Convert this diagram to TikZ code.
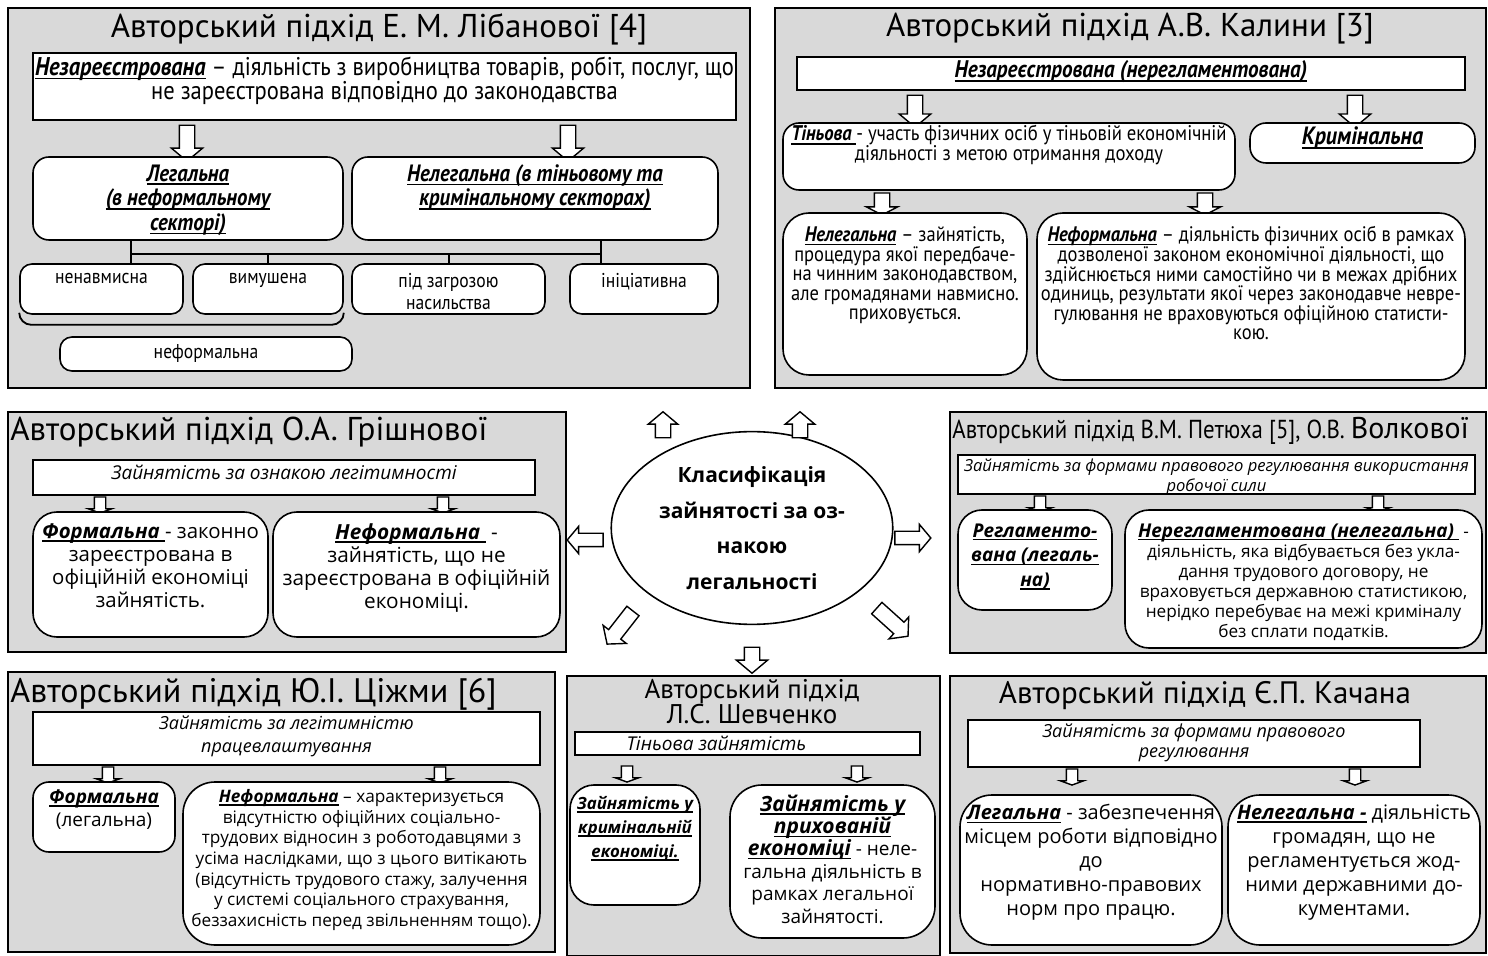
\documentclass[tikz,border=0pt]{standalone}
\usepackage{fontspec}
\setmainfont{PT Sans}
\newfontfamily\condfont{PT Sans}[FakeStretch=0.88]
\newfontfamily\widefont{Open Sans}
\usepackage{tikz}
\usetikzlibrary{shapes.geometric,shapes.arrows,positioning,fit}
\definecolor{pnlgray}{HTML}{D9D9D9}
\newsavebox\ktbox
\newcommand{\keyterm}[1]{\sbox\ktbox{\bfseries\itshape #1}\rlap{\rule[-0.17em]{\wd\ktbox}{0.07em}}\usebox\ktbox}
\newcommand{\fs}[2]{\fontsize{#1}{#2}\selectfont}

\begin{document}
\begin{tikzpicture}[x=0.5pt, y=-0.5pt,
    panel/.style={draw, line width=1pt, fill=pnlgray, inner sep=0pt},
    sqbox/.style={draw, line width=0.9pt, fill=white, inner sep=0pt},
    rbox/.style={draw, line width=0.8pt, fill=white, inner sep=0pt, rounded corners=8pt},
    txt/.style={align=center, inner sep=0pt},
    ttl/.style={inner sep=0pt},
    bkarrow/.style={single arrow, draw, fill=white, line width=0.7pt, inner xsep=0pt, inner ysep=3.5pt,
        single arrow head extend=4pt, single arrow tip angle=100, minimum height=18pt},
    smarrow/.style={bkarrow, inner ysep=2.5pt, single arrow head extend=3pt, single arrow tip angle=140,
        minimum height=8pt},
    tree/.style={line width=1pt}
]
    \useasboundingbox (0,0) rectangle (1488,956);

    % Libanova
    \node[panel, fit={(8,8)(750,388)}] (lib) {};
    \node[ttl, font=\fs{16.5}{18}] (libttl) at (379,29) {Авторський підхід Е. М. Лібанової [4]};
    \node[sqbox, fit={(33,53)(736,120)}] (libtop) {};
    \node[txt, font=\condfont\fs{12.8}{12}, below=2pt of libtop.north] (libtopt)
        {\keyterm{Незареєстрована} – діяльність з виробництва товарів, робіт, послуг, що\\не зареєстрована відповідно до законодавства};
    \node[bkarrow, rotate=-90] (libar1) at (187,140) {};
    \node[bkarrow, rotate=-90] (libar2) at (568,140) {};
    \node[rbox, fit={(33,157)(343,240)}] (liblegal) {};
    \node[txt, font=\condfont\fs{11.8}{12.3}, below=4pt of liblegal.north] (liblegalt)
        {\keyterm{Легальна}\\\keyterm{(в неформальному}\\\keyterm{секторі)}};
    \node[rbox, fit={(352,157)(718,240)}] (libillegal) {};
    \node[txt, font=\condfont\fs{11.8}{12.3}, below=4pt of libillegal.north] (libillegalt)
        {\keyterm{Нелегальна (в тіньовому та}\\\keyterm{кримінальному секторах)}};
    \node[rbox, rounded corners=6pt, fit={(20,264)(183,314)}] (libunint) {};
    \node[txt, font=\condfont\fs{10}{11}, below=5pt of libunint.north] (libunintt) {ненавмисна};
    \node[rbox, rounded corners=6pt, fit={(193,264)(343,314)}] (libforced) {};
    \node[txt, font=\condfont\fs{10}{11}, below=5pt of libforced.north] (libforcedt) {вимушена};
    \node[rbox, rounded corners=6pt, fit={(352,264)(545,314)}] (libthreat) {};
    \node[txt, font=\condfont\fs{10}{11}, below=5pt of libthreat.north] (libthreatt) {під загрозою\\насильства};
    \node[rbox, rounded corners=6pt, fit={(570,264)(718,314)}] (libinit) {};
    \node[txt, font=\condfont\fs{10}{11}, below=5pt of libinit.north] (libinitt) {ініціативна};
    \node[rbox, rounded corners=6pt, fit={(60,337)(352,371)}] (libinformal) {};
    \node[txt, font=\condfont\fs{10}{11}, below=4pt of libinformal.north] (libinformalt) {неформальна};
    \coordinate (libj1) at (131,254);
    \coordinate (libj2) at (601,254);
    \draw[tree] (liblegal.south -| libj1) -- (libj1) -- (libj2) -- (libillegal.south -| libj2);
    \draw[tree] (libj1) -- (libunint.north -| libj1);
    \draw[tree] (libforced.north) -- (libforced.north |- libj1);
    \draw[tree] (libthreat.north) -- (libthreat.north |- libj1);
    \draw[tree] (libj2) -- (libinit.north -| libj2);
    \draw[line width=0.9pt, rounded corners=6pt] ([yshift=1pt]libunint.south west) -- ([yshift=-5pt]libunint.south west)
        -- ([yshift=-5pt]libforced.south east) -- ([yshift=1pt]libforced.south east);

    % Kalina
    \node[panel, fit={(775,8)(1486,388)}] (kal) {};
    \node[ttl, font=\fs{16.5}{18}] (kalttl) at (1130,29) {Авторський підхід А.В. Калини [3]};
    \node[sqbox, fit={(797,57)(1465,90)}] (kaltop) {};
    \node[txt, font=\condfont\fs{12}{12}, below=2pt of kaltop.north] (kaltopt) {\keyterm{Незареєстрована (нерегламентована)}};
    \node[bkarrow, rotate=-90, minimum height=16pt] (kalar1) at (915,108) {};
    \node[bkarrow, rotate=-90, minimum height=16pt] (kalar2) at (1355,108) {};
    \node[rbox, fit={(783,123)(1235,190)}] (kalshadow) {};
    \node[txt, font=\condfont\fs{10.6}{10}, below=1.5pt of kalshadow.north] (kalshadowt)
        {\keyterm{Тіньова }- участь фізичних осіб у тіньовій економічній\\діяльності з метою отримання доходу};
    \node[rbox, fit={(1250,123)(1475,163)}] (kalcrime) {};
    \node[txt, font=\condfont\fs{12.5}{12}, below=2pt of kalcrime.north] (kalcrimet) {\keyterm{Кримінальна}};
    \node[bkarrow, rotate=-90, minimum height=11pt, single arrow tip angle=125] (kalar3) at (882,202) {};
    \node[bkarrow, rotate=-90, minimum height=11pt, single arrow tip angle=125] (kalar4) at (1205,202) {};
    \node[rbox, rounded corners=13pt, fit={(783,213)(1027,375)}] (kalillegal) {};
    \node[txt, font=\condfont\fs{10.5}{9.8}, below=7pt of kalillegal.north] (kalillegalt)
        {\keyterm{Нелегальна} – зайнятість,\\процедура якої передбаче-\\на чинним законодавством,\\але громадянами навмисно.\\приховується.};
    \node[rbox, rounded corners=13pt, fit={(1037,213)(1465,380)}] (kalinformal) {};
    \node[txt, font=\condfont\fs{10.5}{9.8}, below=7pt of kalinformal.north] (kalinformalt)
        {\keyterm{Неформальна} – діяльність фізичних осіб  в рамках\\дозволеної законом економічної діяльності, що\\здійснюється ними самостійно чи в межах дрібних\\одиниць, результати якої через законодавче невре-\\гулювання  не враховуються офіційною статисти-\\кою.};

    % Grishnova
    \node[panel, fit={(8,412)(566,652)}] (gr) {};
    \node[ttl, font=\fs{16.5}{18}, anchor=west] (grttl) at (10,432) {Авторський підхід О.А. Грішнової};
    \node[sqbox, fit={(33,460)(535,495)}] (grtop) {};
    \node[txt, font=\widefont\itshape\fs{9.5}{11}, below=3pt of grtop.north] (grtopt) {Зайнятість за ознакою легітимності};
    \node[smarrow, rotate=-90] (grar1) at (100,504) {};
    \node[smarrow, rotate=-90] (grar2) at (443,504) {};
    \node[rbox, rounded corners=12pt, fit={(33,512)(268,637)}] (grformal) {};
    \node[txt, font=\widefont\fs{10.2}{11.5}, below=6pt of grformal.north] (grformalt)
        {\keyterm{Формальна }- законно\\зареєстрована в\\офіційній економіці\\зайнятість.};
    \node[rbox, rounded corners=12pt, fit={(273,512)(560,637)}] (grinformal) {};
    \node[txt, font=\widefont\fs{10.4}{11.5}, below=6pt of grinformal.north] (grinformalt)
        {\keyterm{Неформальна } -\\зайнятість, що не\\зареєстрована в офіційній\\економіці.};

    % Centre
    \node[ellipse, draw, line width=0.8pt, fill=white, minimum width=140pt, minimum height=95pt,
        align=center, font=\widefont\bfseries\fs{10.5}{17.8}] (clsf) at (752,528)
        {Класифікація\\зайнятості за оз-\\накою\\легальності};
    \node[bkarrow, rotate=90, minimum height=13pt, single arrow head extend=3.5pt] (car1) at (663,428) {};
    \node[bkarrow, rotate=90, minimum height=13pt, single arrow head extend=3.5pt] (car2) at (800,428) {};
    \node[bkarrow, rotate=180, inner ysep=3pt, minimum height=18pt, single arrow head extend=3.5pt] (car3) at (588,540) {};
    \node[bkarrow, inner ysep=3pt, minimum height=18pt, single arrow head extend=3.5pt] (car4) at (910,538) {};
    \node[bkarrow, rotate=-128, minimum height=21pt, single arrow head extend=3.5pt] (car5) at (622,625) {};
    \node[bkarrow, rotate=-90, minimum height=13pt] (car6) at (752,657) {};
    \node[bkarrow, rotate=-42, minimum height=21pt, single arrow head extend=3.5pt] (car7) at (890,620) {};

    % Petiukh, Volkova
    \node[panel, fit={(950,412)(1486,653)}] (pet) {};
    \node[ttl, font=\condfont\fs{13}{14}, anchor=west] (petttl) at (952,431)
        {Авторський підхід В.М. Петюха [5], О.В. {\normalfont\fs{15}{16}Волкової}};
    \node[sqbox, fit={(958,455)(1475,494)}] (pettop) {};
    \node[txt, font=\widefont\itshape\fs{8.3}{10}, below=2pt of pettop.north] (pettopt)
        {Зайнятість за формами правового регулювання використання\\робочої сили};
    \node[smarrow, rotate=-90] (petar1) at (1040,503) {};
    \node[smarrow, rotate=-90] (petar2) at (1378,503) {};
    \node[rbox, rounded corners=12pt, fit={(958,510)(1112,610)}] (petreg) {};
    \node[txt, font=\widefont\fs{9.5}{12.3}, below=7pt of petreg.north] (petregt)
        {\keyterm{Регламенто-}\\\keyterm{вана (легаль-}\\\keyterm{на)}};
    \node[rbox, rounded corners=12pt, fit={(1125,510)(1482,648)}] (petunreg) {};
    \node[txt, font=\widefont\fs{8.6}{10}, below=7pt of petunreg.north] (petunregt)
        {{\fs{9.5}{10}\keyterm{Нерегламентована (нелегальна) }} -\\діяльність, яка відбувається без укла-\\дання трудового договору, не\\враховується державною статистикою,\\нерідко перебуває на межі криміналу\\без сплати податків.};

    % Tsizhma
    \node[panel, fit={(8,672)(555,952)}] (ts) {};
    \node[ttl, font=\fs{17}{18}, anchor=west] (tsttl) at (10,694) {Авторський підхід Ю.І. Ціжми [6]};
    \node[sqbox, fit={(33,712)(540,765)}] (tstop) {};
    \node[txt, font=\widefont\itshape\fs{9}{11.5}, below=2pt of tstop.north] (tstopt)
        {Зайнятість за  легітимністю\\працевлаштування};
    \node[smarrow, rotate=-90] (tsar1) at (108,774) {};
    \node[smarrow, rotate=-90] (tsar2) at (440,774) {};
    \node[rbox, rounded corners=8pt, fit={(33,782)(175,852)}] (tsformal) {};
    \node[txt, font=\widefont\fs{9.5}{11.5}, below=4pt of tsformal.north] (tsformalt)
        {\keyterm{Формальна}\\(легальна)};
    \node[rbox, rounded corners=16pt, fit={(183,782)(540,945)}] (tsinformal) {};
    \node[txt, font=\widefont\fs{8.6}{10.3}, below=4pt of tsinformal.north] (tsinformalt)
        {\keyterm{Неформальна} – характеризується\\відсутністю офіційних соціально-\\трудових відносин з роботодавцями з\\усіма наслідками, що з цього витікають\\(відсутність трудового стажу, залучення\\у системі соціального страхування,\\беззахисність перед звільненням тощо).};

    % Shevchenko
    \node[panel, fit={(567,676)(940,956)}] (sh) {};
    \node[ttl, align=center, font=\fs{13.5}{12.5}] (shttl) at (752,702) {Авторський підхід\\Л.С. Шевченко};
    \node[sqbox, fit={(575,732)(920,755)}] (shtop) {};
    \node[txt, font=\widefont\itshape\fs{9.5}{11}, anchor=west] (shtopt) at ([xshift=26pt]shtop.west) {Тіньова зайнятість};
    \node[smarrow, rotate=-90] (shar1) at (627,773) {};
    \node[smarrow, rotate=-90] (shar2) at (857,773) {};
    \node[rbox, rounded corners=12pt, fit={(570,785)(700,905)}] (shcrime) {};
    \node[txt, font=\widefont\fs{8.4}{12}, below=6pt of shcrime.north] (shcrimet)
        {\keyterm{Зайнятість у}\\\keyterm{кримінальній}\\\keyterm{економіці.}};
    \node[rbox, rounded corners=16pt, fit={(730,785)(935,938)}] (shhidden) {};
    \node[txt, font=\widefont\fs{9.5}{11.2}, below=5pt of shhidden.north] (shhiddent)
        {{\fs{10.5}{11.2}\keyterm{Зайнятість у}}\\{\fs{10.5}{11.2}\keyterm{прихованій}}\\{\fs{10.5}{11.2}\keyterm{економіці}} - неле-\\гальна діяльність в\\рамках легальної\\зайнятості.};

    % Kachan
    \node[panel, fit={(950,676)(1486,953)}] (kach) {};
    \node[ttl, font=\fs{15.5}{16}] (kachttl) at (1205,696) {Авторський підхід Є.П. Качана};
    \node[sqbox, fit={(968,720)(1420,767)}] (kachtop) {};
    \node[txt, font=\widefont\itshape\fs{9}{10}, below=2pt of kachtop.north] (kachtopt)
        {Зайнятість за формами правового\\регулювання};
    \node[smarrow, rotate=-90] (kachar1) at (1072,776) {};
    \node[smarrow, rotate=-90] (kachar2) at (1355,776) {};
    \node[rbox, rounded corners=16pt, fit={(960,795)(1222,945)}] (kachlegal) {};
    \node[txt, font=\widefont\fs{10}{12}, below=5pt of kachlegal.north] (kachlegalt)
        {\keyterm{Легальна} - забезпечення\\місцем роботи відповідно\\до\\нормативно-правових\\норм про працю.};
    \node[rbox, rounded corners=16pt, fit={(1228,795)(1480,945)}] (kachillegal) {};
    \node[txt, font=\widefont\fs{10}{12}, below=5pt of kachillegal.north] (kachillegalt)
        {\keyterm{Нелегальна -} діяльність\\громадян, що не\\регламентується жод-\\ними державними до-\\кументами.};
\end{tikzpicture}
\end{document}
